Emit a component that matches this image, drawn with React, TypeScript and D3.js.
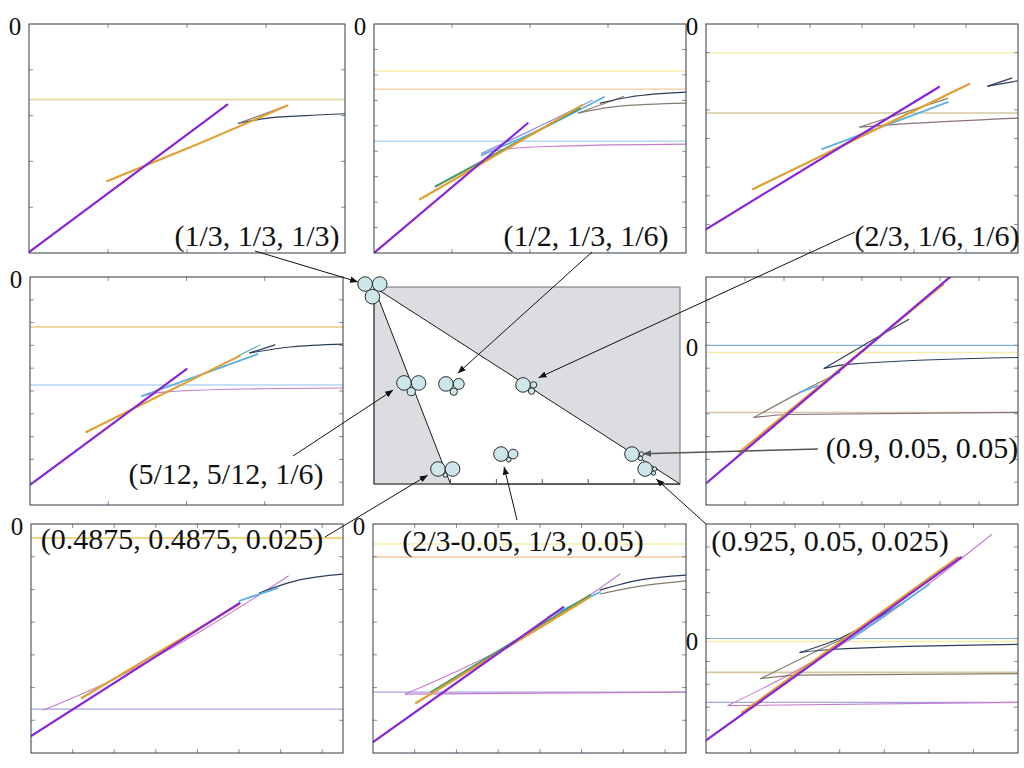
import React from 'react';
import * as d3 from 'd3';

type Pt = [number, number];
type Series = { k: string; pts: Pt[] };
type Level = { k: string; y: number };

// ---------- data for the eight small panels (x in tick units, y in tick units, 0 = labelled tick) ----------
const panel1Levels: Level[] = [{ k: 'hKhaki1', y: -1.65 }];
const panel1Series: Series[] = [
  { k: 'navy', pts: [[2.65, -2.17], [3.0, -2.06], [3.5, -2.0], [4, -1.96]] },
  { k: 'gray', pts: [[2.65, -2.17], [3.27, -1.78]] },
  { k: 'orange', pts: [[0.99, -3.43], [2.0, -2.72], [3.27, -1.78]] },
  { k: 'purple', pts: [[0, -4.98], [2.51, -1.76]] },
];

const panel2Levels: Level[] = [
  { k: 'hPale', y: -1.85 },
  { k: 'hPeach', y: -2.56 },
  { k: 'hLightBlue', y: -4.61 },
];
const panel2Series: Series[] = [
  { k: 'pink', pts: [[1.38, -5.08], [1.68, -4.92], [2.38, -4.8], [4, -4.72]] },
  { k: 'gray', pts: [[2.62, -3.5], [3.15, -3.23], [4, -3.11]] },
  { k: 'gray', pts: [[2.62, -3.5], [3.2, -2.85]] },
  { k: 'navy', pts: [[2.9, -3.11], [3.28, -2.87], [4, -2.68]] },
  { k: 'lav', pts: [[1.38, -5.08], [2.0, -4.2], [2.8, -3.0]] },
  { k: 'blue', pts: [[1.38, -5.16], [2.19, -4.06], [2.95, -2.87]] },
  { k: 'green', pts: [[0.79, -6.38], [2.64, -3.31]] },
  { k: 'orange', pts: [[0.59, -6.89], [2.67, -3.19]] },
  { k: 'purple', pts: [[0, -9], [1.97, -3.9]] },
];

const panel3Levels: Level[] = [
  { k: 'hPale', y: -1.01 },
  { k: 'hKhaki', y: -3.11 },
];
const panel3Series: Series[] = [
  { k: 'mauve', pts: [[2.96, -3.6], [3.73, -3.5], [6, -3.29]] },
  { k: 'gray', pts: [[2.96, -3.6], [4.65, -2.6]] },
  { k: 'navy', pts: [[5.42, -2.17], [6, -1.99]] },
  { k: 'navy', pts: [[5.42, -2.17], [5.88, -1.89]] },
  { k: 'blue', pts: [[2.23, -4.37], [4.65, -2.73]] },
  { k: 'orange', pts: [[0.9, -5.77], [5.06, -2.1]] },
  { k: 'purple', pts: [[0, -7.17], [4.48, -2.2]] },
];

const panel4Levels: Level[] = [
  { k: 'hYellow', y: -2.19 },
  { k: 'hLightBlue', y: -4.74 },
];
const panel4Series: Series[] = [
  { k: 'pink', pts: [[1.43, -5.22], [1.73, -5.04], [2.81, -4.91], [4, -4.87]] },
  { k: 'lav', pts: [[1.43, -5.22], [2.5, -3.9]] },
  { k: 'navy', pts: [[2.81, -3.33], [3.32, -3.07], [4, -2.94]] },
  { k: 'navy', pts: [[2.81, -3.33], [3.13, -2.98]] },
  { k: 'teal', pts: [[2.66, -3.46], [2.94, -2.98]] },
  { k: 'blue', pts: [[1.43, -5.22], [2.91, -3.38]] },
  { k: 'orange', pts: [[0.72, -6.8], [2.68, -3.46]] },
  { k: 'purple', pts: [[0, -9.12], [2.0, -4.04]] },
];

const panel5Levels: Level[] = [
  { k: 'hBlue', y: 0 },
  { k: 'hPale', y: -0.31 },
  { k: 'hKhaki', y: -2.94 },
];
const panel5Series: Series[] = [
  { k: 'mauve', pts: [[1.23, -3.16], [2.15, -3.03], [8, -2.94]] },
  { k: 'gray', pts: [[1.23, -3.16], [2.41, -2.06], [3.44, -1.18]] },
  { k: 'navy', pts: [[3.03, -1.01], [3.62, -0.83], [8, -0.53]] },
  { k: 'navy', pts: [[3.03, -1.01], [4.03, 0], [5.2, 1.14]] },
  { k: 'blue', pts: [[2.41, -2.06], [2.87, -1.76]] },
  { k: 'orange', pts: [[0.85, -4.69], [6.08, 2.68]] },
  { k: 'purple', pts: [[0, -6.05], [6.5, 3.35]] },
];

const panel6Levels: Level[] = [
  { k: 'hYellow2', y: -0.43 },
  { k: 'hLav', y: -5.66 },
];
const panel6Series: Series[] = [
  { k: 'pink', pts: [[0.29, -5.69], [1.65, -4.95], [4.05, -3.3], [6.19, -1.59]] },
  { k: 'navy', pts: [[5.49, -2.11], [6.45, -1.71], [7.5, -1.53]] },
  { k: 'blue', pts: [[5.01, -2.35], [5.92, -1.96]] },
  { k: 'orange', pts: [[1.22, -5.32], [5.01, -2.45]] },
  { k: 'purple', pts: [[0, -6.48], [5.01, -2.42]] },
];

const panel7Levels: Level[] = [
  { k: 'hPale', y: -0.61 },
  { k: 'hPeach', y: -1.01 },
  { k: 'hLav', y: -5.14 },
];
const panel7Series: Series[] = [
  { k: 'pink', pts: [[0.77, -5.2], [2.33, -4.31], [4.0, -3.18], [5.92, -1.53]] },
  { k: 'pink', pts: [[0.77, -5.2], [7.5, -5.14]] },
  { k: 'gray', pts: [[5.44, -2.14], [6.4, -1.9], [7.5, -1.74]] },
  { k: 'navy', pts: [[5.44, -2.02], [6.4, -1.71], [7.5, -1.56]] },
  { k: 'blue', pts: [[4.2, -2.84], [5.44, -2.08]] },
  { k: 'green', pts: [[1.39, -5.14], [5.2, -2.17]] },
  { k: 'orange', pts: [[1.03, -5.47], [5.2, -2.23]] },
  { k: 'purple', pts: [[0, -6.67], [4.56, -2.54]] },
];

const panel8Levels: Level[] = [
  { k: 'hBlue', y: 0 },
  { k: 'hPale', y: -0.13 },
  { k: 'hKhaki', y: -1.48 },
  { k: 'hLav', y: -2.79 },
];
const panel8Series: Series[] = [
  { k: 'pink', pts: [[0.49, -2.93], [1.66, -1.79], [3.23, -0.04], [6.41, 4.54]] },
  { k: 'pink', pts: [[0.49, -2.93], [7, -2.79]] },
  { k: 'gray', pts: [[1.23, -1.75], [2.1, -1.6], [7, -1.53]] },
  { k: 'gray', pts: [[1.23, -1.75], [2.56, -0.48], [3.3, 0.2]] },
  { k: 'navy', pts: [[2.11, -0.61], [2.78, -0.48], [7, -0.26]] },
  { k: 'navy', pts: [[2.11, -0.61], [3.0, 0.0], [4.35, 1.48]] },
  { k: 'blue', pts: [[3.23, -0.04], [5.0, 2.36]] },
  { k: 'orange', pts: [[0.81, -3.23], [5.65, 3.54]] },
  { k: 'purple', pts: [[0, -4.45], [5.72, 3.54]] },
];

// axis domains of the small panels
const panelXMax = [4, 4, 6, 4, 8, 7.5, 7.5, 7];
const panelXTicks = [4, 4, 6, 4, 8, 7, 7, 7];
const panelYMin = [-5, -9, -8, -10, -7, -7, -7, -5];
const panelYMax = [0, 0, 0, 0, 3, 0, 0, 5];

// ---------- data for the centre panel ----------
const compositionLabels = [
  '(1/3, 1/3, 1/3)',
  '(1/2, 1/3, 1/6)',
  '(2/3, 1/6, 1/6)',
  '(5/12, 5/12, 1/6)',
  '(0.9, 0.05, 0.05)',
  '(0.4875, 0.4875, 0.025)',
  '(2/3-0.05, 1/3, 0.05)',
  '(0.925, 0.05, 0.025)',
];
const compositionValues: number[][] = [
  [1 / 3, 1 / 3, 1 / 3],
  [1 / 2, 1 / 3, 1 / 6],
  [2 / 3, 1 / 6, 1 / 6],
  [5 / 12, 5 / 12, 1 / 6],
  [0.9, 0.05, 0.05],
  [0.4875, 0.4875, 0.025],
  [2 / 3 - 0.05, 1 / 3, 0.05],
  [0.925, 0.05, 0.025],
];
// where each cluster sits in the centre panel (unit square)
const clusterX = [-0.029, 0.235, 0.487, 0.098, 0.843, 0.209, 0.415, 0.886];
const clusterY = [1.015, 0.508, 0.503, 0.513, 0.152, 0.076, 0.152, 0.076];
const centreTicks = [0.25, 0.4, 0.55, 0.7, 0.85];
const triangle: Pt[] = [[0, 1], [0.25, 0], [1, 0]];

// ---------- layout & style ----------
const frames: [number, number, number, number][] = [
  [29, 24, 345, 253],
  [374, 24, 686, 253],
  [706, 24, 1018, 253],
  [30, 277, 343, 505],
  [706, 277, 1018, 505],
  [31, 524, 343, 753],
  [373, 524, 686, 753],
  [706, 524, 1018, 753],
];
const panelLevels = [panel1Levels, panel2Levels, panel3Levels, panel4Levels, panel5Levels, panel6Levels, panel7Levels, panel8Levels];
const panelSeries = [panel1Series, panel2Series, panel3Series, panel4Series, panel5Series, panel6Series, panel7Series, panel8Series];

const styles: Record<string, { c: string; w: number }> = {
  purple: { c: '#8a24d8', w: 2.2 },
  orange: { c: '#dfa034', w: 2.2 },
  green: { c: '#3f9a62', w: 2 },
  blue: { c: '#5cb2e4', w: 1.8 },
  lav: { c: '#8e8ee2', w: 1.2 },
  pink: { c: '#c47ccc', w: 1.1 },
  navy: { c: '#2c3d5c', w: 1.2 },
  gray: { c: '#857c70', w: 1.2 },
  mauve: { c: '#8a6f80', w: 1.2 },
  teal: { c: '#6ab8b0', w: 1.2 },
  hKhaki1: { c: '#e2d696', w: 1.6 },
  hYellow: { c: '#eacb84', w: 1.4 },
  hYellow2: { c: '#e8c850', w: 1.4 },
  hPale: { c: '#f6eca8', w: 1.4 },
  hPeach: { c: '#f1c9a0', w: 1.4 },
  hLightBlue: { c: '#b4d6f2', w: 1.6 },
  hKhaki: { c: '#d6c8a0', w: 1.6 },
  hBlue: { c: '#84b2e0', w: 1.2 },
  hLav: { c: '#a4a4e0', w: 1.2 },
};

const centreBox: [number, number, number, number] = [374, 287, 680, 484];
const labelCenters: Pt[] = [
  [257, 246], [586, 246], [937, 246], [226, 484], [922, 458], [182, 549], [523, 551], [830, 551],
];
const arrowStarts: Pt[] = [
  [255, 251], [592, 252], [855, 232], [293, 456], [818, 449], [325, 537], [517, 520], [706, 524],
];
const arrowGaps = [7.5, 16, 17, 13, 11, 12, 13, 15];

const SmallPanel: React.FC<{ i: number }> = ({ i }) => {
  const [x0, y0, x1, y1] = frames[i];
  const x = d3.scaleLinear().domain([0, panelXMax[i]]).range([x0, x1]);
  const y = d3.scaleLinear().domain([panelYMin[i], panelYMax[i]]).range([y1, y0]);
  const line = d3.line<Pt>().x((d) => x(d[0])).y((d) => y(d[1])).curve(d3.curveMonotoneX);
  const xt = d3.range(1, panelXTicks[i] + 1).filter((t) => t < panelXMax[i]);
  const yt = d3.range(panelYMin[i] + 1, panelYMax[i]);
  const tl = 4;
  const clipId = `clip${i}`;
  return (
    <g>
      <defs>
        <clipPath id={clipId}>
          <rect x={x0} y={y0} width={x1 - x0} height={y1 - y0} />
        </clipPath>
      </defs>
      <rect x={x0} y={y0} width={x1 - x0} height={y1 - y0} fill="#fff" />
      <g clipPath={`url(#${clipId})`}>
        {panelLevels[i].map((l, j) => (
          <line key={'l' + j} x1={x0} x2={x1} y1={y(l.y)} y2={y(l.y)} stroke={styles[l.k].c} strokeWidth={styles[l.k].w} />
        ))}
        {panelSeries[i].map((s, j) => (
          <path key={'s' + j} d={line(s.pts) || ''} fill="none" stroke={styles[s.k].c} strokeWidth={styles[s.k].w} strokeLinecap="round" />
        ))}
      </g>
      {xt.map((t) => (
        <g key={'xt' + t} stroke="#8a8f96" strokeWidth={1}>
          <line x1={x(t)} x2={x(t)} y1={y1} y2={y1 - tl} />
          <line x1={x(t)} x2={x(t)} y1={y0} y2={y0 + tl} />
        </g>
      ))}
      {yt.map((t) => (
        <g key={'yt' + t} stroke="#8a8f96" strokeWidth={1}>
          <line x1={x0} x2={x0 + tl} y1={y(t)} y2={y(t)} />
          <line x1={x1} x2={x1 - tl} y1={y(t)} y2={y(t)} />
        </g>
      ))}
      <rect x={x0} y={y0} width={x1 - x0} height={y1 - y0} fill="none" stroke="#2f3a46" strokeWidth={1} />
      <text x={x0 - 14} y={y(0) + 11} fontSize={25} textAnchor="middle" fontFamily="'Liberation Serif', 'DejaVu Serif', serif" fill="#111">0</text>
    </g>
  );
};

function clusterCircles(i: number, cx: (v: number) => number, cy: (v: number) => number) {
  const vals = compositionValues[i];
  const mx = d3.max(vals) as number;
  const r = d3.scaleLinear().domain([0, 1]).range([1.9, 7.3]);
  const rs = vals.map((v) => r(v / mx));
  const ax = cx(clusterX[i]);
  const ay = cy(clusterY[i]);
  const bx = ax + rs[0] + rs[1];
  const by = ay;
  // circle C tangent to A and B, below them
  const dA = rs[0] + rs[2];
  const dB = rs[1] + rs[2];
  const d = bx - ax;
  const a = (dA * dA - dB * dB + d * d) / (2 * d);
  const h = Math.sqrt(Math.max(0, dA * dA - a * a));
  return [
    { x: ax, y: ay, r: rs[0] },
    { x: bx, y: by, r: rs[1] },
    { x: ax + a, y: ay + h, r: rs[2] },
  ];
}

const CentrePanel: React.FC = () => {
  const [x0, y0, x1, y1] = centreBox;
  const cx = d3.scaleLinear().domain([0, 1]).range([x0, x1]);
  const cy = d3.scaleLinear().domain([0, 1]).range([y1, y0]);
  const tri = triangle.map((p) => `${cx(p[0])},${cy(p[1])}`).join(' ');
  return (
    <g>
      <rect x={x0} y={y0} width={x1 - x0} height={y1 - y0} fill="#dcdde0" stroke="#6a6e74" strokeWidth={1} />
      <polygon points={tri} fill="#ffffff" stroke="#1a1a1a" strokeWidth={1} />
      <line x1={x0} x2={x1} y1={y1} y2={y1} stroke="#444" strokeWidth={1.2} />
      <line x1={x0} x2={x0} y1={y0} y2={y1} stroke="#555" strokeWidth={1.4} />
      {centreTicks.map((t) => (
        <line key={t} x1={cx(t)} x2={cx(t)} y1={y1} y2={y1 - 5} stroke="#555" strokeWidth={1} />
      ))}
    </g>
  );
};

export default function App() {
  const [x0, y0, x1, y1] = centreBox;
  const cx = d3.scaleLinear().domain([0, 1]).range([x0, x1]);
  const cy = d3.scaleLinear().domain([0, 1]).range([y1, y0]);
  const clusters = compositionValues.map((_, i) => clusterCircles(i, cx, cy));
  return (
    <svg width={1024} height={768} style={{ position: 'absolute', left: 0, top: 0, background: '#fff' }}>
      <defs>
        <marker id="ah" viewBox="0 0 10 10" refX={10} refY={5} markerWidth={8} markerHeight={8} orient="auto" markerUnits="userSpaceOnUse">
          <path d="M0,1 L10,5 L0,9 z" fill="#111" />
        </marker>
        <marker id="ahg" viewBox="0 0 10 10" refX={10} refY={5} markerWidth={8} markerHeight={8} orient="auto" markerUnits="userSpaceOnUse">
          <path d="M0,1 L10,5 L0,9 z" fill="#555" />
        </marker>
      </defs>
      <rect width={1024} height={768} fill="#fff" />
      {frames.map((_, i) => (
        <SmallPanel key={i} i={i} />
      ))}
      <CentrePanel />
      {clusters.map((cl, i) => (
        <g key={'c' + i}>
          {cl.map((c, j) => (
            <circle key={j} cx={c.x} cy={c.y} r={c.r} fill="#cde6ea" stroke="#2a2a2a" strokeWidth={1} />
          ))}
        </g>
      ))}
      {compositionLabels.map((lab, i) => (
        <text key={'t' + i} x={labelCenters[i][0]} y={labelCenters[i][1]} fontSize={30} textAnchor="middle" fontFamily="'Liberation Serif', 'DejaVu Serif', serif" fill="#111">
          {lab}
        </text>
      ))}
      {arrowStarts.map((s, i) => {
        const ax = cx(clusterX[i]);
        const ay = cy(clusterY[i]);
        const dx = s[0] - ax;
        const dy = s[1] - ay;
        const len = Math.hypot(dx, dy);
        const tx = ax + (dx / len) * arrowGaps[i];
        const ty = ay + (dy / len) * arrowGaps[i];
        const grey = i === 4;
        return (
          <line key={'a' + i} x1={s[0]} y1={s[1]} x2={tx} y2={ty} stroke={grey ? '#555' : '#111'} strokeWidth={grey ? 1.4 : 1} markerEnd={grey ? 'url(#ahg)' : 'url(#ah)'} />
        );
      })}
    </svg>
  );
}
